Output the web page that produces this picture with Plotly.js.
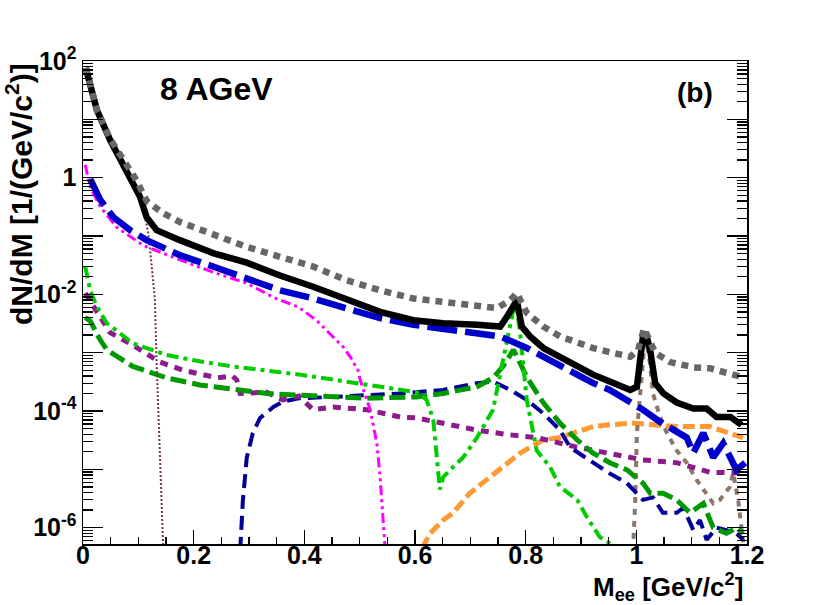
<!DOCTYPE html>
<html>
<head>
<meta charset="utf-8">
<script src="https://cdn.plot.ly/plotly-3.0.1.min.js"></script>
<style>html,body{margin:0;padding:0;background:#fff;}#chart{width:830px;height:605px;}</style>
</head>
<body>
<div id="chart"></div>
<script>
// ---- data (x: M_ee in GeV/c^2, y: dN/dM) ----
const totalX = [0.005,0.025,0.049,0.079,0.103,0.115,0.127,0.133,0.175,0.235,0.296,0.356,0.416,0.44,0.477,0.537,0.597,0.651,0.712,0.754,0.766,0.784,0.793,0.808,0.832,0.862,0.893,0.922,0.952,0.989,1.001,1.007,1.012,1.017,1.025,1.034,1.049,1.073,1.103,1.127,1.145,1.17,1.19];
const totalY = [76,14.5,4.4,1.35,0.47,0.21,0.14,0.126,0.085,0.051,0.035,0.021,0.0135,0.011,0.0079,0.0050,0.0036,0.0032,0.0030,0.0028,0.0041,0.0079,0.0028,0.0019,0.0012,8.5e-4,5.6e-4,4.2e-4,3.2e-4,2.3e-4,2.6e-4,7.4e-4,1.9e-3,2.2e-3,1.1e-3,3.0e-4,2.0e-4,1.4e-4,1.1e-4,1.1e-4,7.9e-5,7.9e-5,5.8e-5];

const total2X = [0.005,0.025,0.049,0.079,0.097,0.115,0.13,0.145,0.175,0.235,0.296,0.356,0.416,0.477,0.537,0.597,0.651,0.712,0.748,0.772,0.784,0.802,0.832,0.862,0.893,0.922,0.952,0.989,1.003,1.014,1.034,1.061,1.103,1.133,1.163,1.193];
const total2Y = [76,14.5,4.6,1.6,0.89,0.40,0.30,0.245,0.174,0.105,0.065,0.044,0.030,0.0174,0.0117,0.0085,0.0074,0.0066,0.0058,0.0079,0.0105,0.0048,0.0028,0.0019,0.00145,0.0012,0.00102,8.5e-4,0.0011,0.0026,0.0010,6.9e-4,5.6e-4,5.4e-4,4.5e-4,3.8e-4];

const blueX = [0.013,0.031,0.055,0.085,0.115,0.145,0.175,0.235,0.296,0.356,0.416,0.477,0.537,0.597,0.651,0.712,0.754,0.802,0.832,0.862,0.893,0.922,0.952,0.983,1.012,1.043,1.073,1.091,1.103,1.121,1.139,1.157,1.181,1.197];
const blueY = [0.95,0.42,0.21,0.126,0.085,0.065,0.047,0.030,0.0186,0.0117,0.0085,0.0058,0.0039,0.0030,0.0026,0.0022,0.0019,0.0012,8.5e-4,6.2e-4,4.2e-4,3.0e-4,2.3e-4,1.55e-4,1.05e-4,6.5e-5,4.4e-5,3.5e-5,1.9e-5,4.2e-5,1.6e-5,2.8e-5,9.8e-6,1.3e-5];

const magentaX = [0.004,0.013,0.031,0.061,0.109,0.175,0.235,0.296,0.344,0.39,0.423,0.452,0.47,0.483,0.497,0.501,0.519,0.531,0.537,0.542,0.547];
const magentaY = [1.66,0.69,0.32,0.141,0.069,0.039,0.024,0.0155,0.0089,0.0060,0.0035,0.0019,0.00126,8.5e-4,5.0e-4,3.4e-4,1.05e-4,2.8e-5,7.4e-6,1.5e-6,3.2e-7];

const brownX = [0.005,0.025,0.05,0.08,0.103,0.118,0.124,0.130,0.133,0.139,0.145];
const brownY = [74,13.8,4.2,1.2,0.56,0.112,0.032,0.0079,7e-4,1.1e-5,4.5e-7];

const lgreenX = [0.004,0.013,0.025,0.043,0.09,0.151,0.211,0.271,0.392,0.513,0.603,0.621,0.633,0.645,0.651,0.669,0.687,0.712,0.741,0.759,0.777,0.783,0.79,0.802,0.82,0.844,0.862,0.893,0.911,0.934,0.958];
const lgreenY = [0.030,0.0117,0.0062,0.0032,0.00145,9.1e-4,7.1e-4,5.8e-4,4.2e-4,2.8e-4,2.1e-4,1.55e-4,7.1e-5,4.5e-6,7.4e-6,1.1e-5,1.6e-5,3.5e-5,1.05e-4,7.4e-4,0.0050,0.0063,0.0022,1.55e-4,2.1e-5,1.1e-5,5.0e-6,3.0e-6,1.5e-6,6.9e-7,5.0e-7];

const dgreenX = [0.004,0.013,0.031,0.043,0.09,0.151,0.211,0.271,0.332,0.392,0.452,0.513,0.603,0.651,0.712,0.741,0.759,0.772,0.778,0.79,0.802,0.832,0.862,0.893,0.922,0.952,0.983,1.012,1.025,1.048,1.073,1.097,1.121,1.139,1.163,1.181,1.193];
const dgreenY = [0.0040,0.0035,0.00166,0.00112,5.8e-4,3.7e-4,2.8e-4,2.4e-4,2.0e-4,1.86e-4,1.74e-4,1.66e-4,1.74e-4,2.0e-4,2.6e-4,3.7e-4,5.8e-4,8.9e-4,1.12e-3,6.6e-4,3.8e-4,1.38e-4,6.2e-5,3.2e-5,1.9e-5,1.3e-5,9.8e-6,5.8e-6,3.9e-6,3.9e-6,3.0e-6,1.8e-6,2.6e-6,1.0e-6,8e-7,1.0e-6,8e-7];

const purpleX = [0.004,0.018,0.049,0.09,0.139,0.181,0.242,0.27,0.278,0.284,0.332,0.361,0.39,0.416,0.452,0.513,0.573,0.603,0.651,0.712,0.772,0.82,0.893,0.952,1.012,1.073,1.133,1.193];
const purpleY = [0.0105,0.0063,0.0022,0.00135,6.9e-4,5.0e-4,3.7e-4,4.0e-4,3.4e-4,2.0e-4,2.1e-4,1.55e-4,1.8e-4,1.05e-4,1.17e-4,1.05e-4,7.9e-5,7.6e-5,6.2e-5,4.7e-5,3.9e-5,3.5e-5,2.4e-5,1.9e-5,1.45e-5,1.3e-5,8.9e-6,8.7e-6];

const navyX = [0.284,0.289,0.296,0.307,0.32,0.344,0.361,0.392,0.452,0.513,0.573,0.651,0.712,0.741,0.772,0.802,0.832,0.862,0.88,0.922,0.952,0.983,1.012,1.030,1.048,1.073,1.085,1.103,1.115,1.127,1.145,1.163,1.181,1.193];
const navyY = [4e-7,3.0e-6,1.6e-5,4.2e-5,7.6e-5,1.17e-4,1.45e-4,1.66e-4,1.74e-4,1.86e-4,2.0e-4,2.3e-4,3.0e-4,3.2e-4,2.3e-4,1.55e-4,9.1e-5,4.7e-5,2.4e-5,1.3e-5,8.5e-6,5.8e-6,3.0e-6,3.3e-6,1.8e-6,1.8e-6,2.2e-6,9.1e-7,1.35e-6,6.2e-7,1.0e-6,9.1e-7,8e-7,6.2e-7];

const orangeX = [0.613,0.627,0.651,0.669,0.699,0.730,0.759,0.79,0.832,0.862,0.893,0.922,0.952,0.994,1.03,1.073,1.133,1.163,1.193];
const orangeY = [4.5e-7,7.9e-7,1.35e-6,1.8e-6,3.9e-6,6.6e-6,1.1e-5,1.9e-5,3.2e-5,3.5e-5,4.4e-5,5.4e-5,5.8e-5,6.2e-5,5.8e-5,5.4e-5,5.4e-5,4.4e-5,3.5e-5];

const phiX = [0.994,0.998,1.001,1.007,1.016,1.025,1.03,1.043,1.055,1.073,1.091,1.109,1.127,1.139,1.151,1.169,1.175,1.184,1.19,1.195];
const phiY = [4e-7,3.0e-6,4.2e-5,2.0e-4,2.0e-3,6.3e-4,2.0e-4,7.9e-5,4.2e-5,2.1e-5,1.3e-5,6.6e-6,3.9e-6,2.6e-6,3.0e-6,5.0e-6,8.7e-6,3.0e-6,1.0e-6,4e-7];

const xTickVals = [0,0.2,0.4,0.6,0.8,1.0,1.2];
const xTickText = ['0','0.2','0.4','0.6','0.8','1','1.2'];
const yLabelVals = [1e-6,1e-4,1e-2,1,100];
const yLabelText = ['10<sup>-6</sup>','10<sup>-4</sup>','10<sup>-2</sup>','1','10<sup>2</sup>'];
const yOddDecades = [1e-5,1e-3,1e-1,10];

// ---- build ----
const xMinor = [];
for (let i = 1; i < 24; i++) { if (i % 4 !== 0) xMinor.push(+(i * 0.05).toFixed(2)); }
const yMinor = [];
for (let e = -7; e < 2; e++) { for (let m = 2; m <= 9; m++) yMinor.push(m * Math.pow(10, e)); }

function tr(x, y, color, width, dash) {
  return {x: x, y: y, type: 'scatter', mode: 'lines', hoverinfo: 'skip', showlegend: false,
          line: {color: color, width: width, dash: dash}};
}

const traces = [
  tr(orangeX, orangeY, '#ff9933', 5, '12px,5px'),
  tr(phiX, phiY, '#8c7668', 4, '6px,6px'),
  tr(navyX, navyY, '#000099', 4, '14px,7px'),
  tr(purpleX, purpleY, '#8b1c8b', 5, '8px,7px'),
  tr(dgreenX, dgreenY, '#009900', 5, '16px,6px'),
  tr(lgreenX, lgreenY, '#00cc00', 4, '12px,5px,4px,5px'),
  tr(brownX, brownY, '#6b3a3a', 2, '2px,2px'),
  tr(magentaX, magentaY, '#ff00ff', 3, '10px,4px,3px,4px,3px,4px'),
  tr(blueX, blueY, '#0000cc', 6.5, '30px,8px'),
  tr(totalX, totalY, '#000000', 6.5, 'solid'),
  tr(total2X, total2Y, '#666666', 6.5, '7px,6px'),
  {x: [], y: [], type: 'scatter', mode: 'lines', yaxis: 'y2', hoverinfo: 'skip', showlegend: false}
];

const FONT = 'Liberation Sans, Arial, Helvetica, sans-serif';
const tickFont = {family: FONT, size: 25, color: '#000', weight: 'bold'};

const layout = {
  width: 830, height: 605,
  margin: {l: 83, r: 83, t: 61, b: 61, pad: 0},
  paper_bgcolor: '#ffffff', plot_bgcolor: '#ffffff',
  showlegend: false,
  xaxis: {
    range: [0, 1.2], showgrid: false, zeroline: false,
    showline: true, linecolor: '#000', linewidth: 1.5, mirror: true,
    tickmode: 'array', tickvals: xTickVals, ticktext: xTickText,
    ticks: 'inside', ticklen: 14, tickwidth: 1.3, tickcolor: '#000',
    ticklabelstandoff: -12,
    tickfont: tickFont,
    minor: {tickmode: 'array', tickvals: xMinor, ticks: 'inside', ticklen: 7, tickwidth: 1.3, tickcolor: '#000', showgrid: false}
  },
  yaxis: {
    type: 'log', range: [-6.28, 2], showgrid: false, zeroline: false,
    showline: true, linecolor: '#000', linewidth: 1.5, mirror: 'ticks',
    tickmode: 'array', tickvals: yLabelVals, ticktext: yLabelText,
    ticks: 'inside', ticklen: 20, tickwidth: 1.3, tickcolor: '#000',
    tickfont: tickFont,
    minor: {tickmode: 'array', tickvals: yMinor, ticks: 'inside', ticklen: 10, tickwidth: 1.3, tickcolor: '#000', showgrid: false}
  },
  yaxis2: {
    type: 'log', range: [-6.28, 2], overlaying: 'y', side: 'left',
    showgrid: false, zeroline: false, showticklabels: false,
    showline: true, linecolor: '#000', linewidth: 1.5, mirror: 'ticks',
    tickmode: 'array', tickvals: yOddDecades,
    ticks: 'inside', ticklen: 20, tickwidth: 1.3, tickcolor: '#000'
  },
  annotations: [
    {text: '8 AGeV', xref: 'paper', yref: 'paper', x: 0.2018, y: 0.942, xanchor: 'center', yanchor: 'middle',
     showarrow: false, font: {family: FONT, size: 32, color: '#000', weight: 'bold'}},
    {text: '(b)', xref: 'paper', yref: 'paper', x: 0.9217, y: 0.935, xanchor: 'center', yanchor: 'middle',
     showarrow: false, font: {family: FONT, size: 28, color: '#000', weight: 'bold'}},
    {text: 'M<sub>ee</sub> [GeV/c<sup>2</sup>]', xref: 'paper', yref: 'paper', x: 0.997, y: -0.09,
     xanchor: 'right', yanchor: 'middle', showarrow: false,
     font: {family: FONT, size: 26, color: '#000', weight: 'bold'}},
    {text: 'dN/dM [1/(GeV/c<sup>2</sup>)]', xref: 'paper', yref: 'paper', x: -0.0964, y: 1.0,
     xanchor: 'center', yanchor: 'top', textangle: -90, showarrow: false,
     font: {family: FONT, size: 30, color: '#000', weight: 'bold'}}
  ]
};

Plotly.newPlot('chart', traces, layout, {staticPlot: true, displayModeBar: false});
</script>
</body>
</html>
